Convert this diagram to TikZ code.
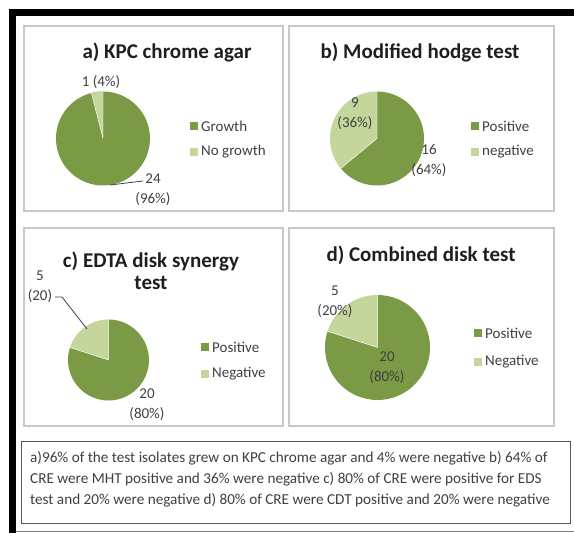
\documentclass[tikz,border=0pt]{standalone}
\usepackage{fontspec}
\setmainfont{Carlito}
\definecolor{dk}{HTML}{7A9A45}
\definecolor{lt}{HTML}{C4D69B}
\definecolor{panelgray}{HTML}{C8C8C8}
\definecolor{txt}{HTML}{404040}
\begin{document}
\begin{tikzpicture}[x=1pt,y=1pt,
  panel/.style={draw=panelgray, line width=1.2pt},
  ttl/.style={font=\fontsize{21}{22}\selectfont\bfseries, text=black!88, inner sep=0pt, align=center},
  lbl/.style={font=\fontsize{15}{20}\selectfont, text=txt, inner sep=0pt, align=center},
  leg/.style={font=\fontsize{15}{18}\selectfont, text=txt, inner sep=0pt, anchor=west},
  sw/.style={minimum size=8pt, inner sep=0pt},
  lead/.style={draw=txt, line width=0.8pt},
  sep/.style={draw=white, line width=0.4pt}]
\useasboundingbox (0,0) rectangle (574,533);
\fill[white] (0,0) rectangle (574,533);
% outer black frame
\fill[black] (9,517) rectangle (574,524);
\fill[black] (9,0) rectangle (16,524);
\draw[gray, line width=0.8pt] (16,1.5) -- (574,1.5);
% panels
\draw[panel] (24,322) rectangle (283,507);
\draw[panel] (289,322) rectangle (554,507);
\draw[panel] (24,107) rectangle (283,305);
\draw[panel] (289,107) rectangle (554,305);
\draw[draw=black!65, line width=1pt] (21,9) rectangle (570,91);

% ---------- a) ----------
\node[ttl] (ta) at (167,481) {a) KPC chrome agar};
\coordinate (ca) at (103,394.5);
\fill[dk] (ca) -- ++(104.4:47) arc[start angle=104.4, end angle=-270, radius=47] -- cycle;
\fill[lt] (ca) -- ++(90:47) arc[start angle=90, end angle=104.4, radius=47] -- cycle;
\draw[sep] (ca) -- ++(90:47) (ca) -- ++(104.4:47);
\node[lbl] (la1) at (101,451) {1 (4\%)};
\node[lbl] (la2) at (153,343) {24\\(96\%)};
\coordinate (pa) at (110,348);
\coordinate (qa) at (143,352);
\draw[lead] (pa) -- (qa);
\node[sw, fill=dk] (sa1) at (194,407) {};
\node[leg] (ga1) at (201,407) {Growth};
\node[sw, fill=lt] (sa2) at (194,381) {};
\node[leg] (ga2) at (201,381) {No growth};

% ---------- b) ----------
\node[ttl] (tb) at (420,481) {b) Modified hodge test};
\coordinate (cb) at (377,394.5);
\fill[dk] (cb) -- ++(219.6:47) arc[start angle=219.6, end angle=450, radius=47] -- cycle;
\fill[lt] (cb) -- ++(90:47) arc[start angle=90, end angle=219.6, radius=47] -- cycle;
\draw[sep] (cb) -- ++(90:47) (cb) -- ++(219.6:47);
\node[lbl] (lb1) at (355,419) {9\\(36\%)};
\node[lbl] (lb2) at (429,373) {16\\(64\%)};
\node[sw, fill=dk] (sb1) at (475,407) {};
\node[leg] (gb1) at (482,407) {Positive};
\node[sw, fill=lt] (sb2) at (475,381) {};
\node[leg] (gb2) at (482,381) {negative};

% ---------- c) ----------
\node[ttl] (tc) at (151,262) {c) EDTA disk synergy\\test};
\coordinate (cc) at (108.5,173);
\fill[dk] (cc) -- ++(162:40.5) arc[start angle=162, end angle=450, radius=40.5] -- cycle;
\fill[lt] (cc) -- ++(90:40.5) arc[start angle=90, end angle=162, radius=40.5] -- cycle;
\draw[sep] (cc) -- ++(90:40.5) (cc) -- ++(162:40.5);
\node[lbl] (lc1) at (40,246) {5\\(20)};
\node[lbl] (lc2) at (147,128) {20\\(80\%)};
\coordinate (pc) at (55,236);
\coordinate (kc) at (62,236);
\coordinate (qc) at (87,204);
\draw[lead] (pc) -- (kc) -- (qc);
\node[sw, fill=dk] (sc1) at (205,186) {};
\node[leg] (gc1) at (212,186) {Positive};
\node[sw, fill=lt] (sc2) at (205,159) {};
\node[leg] (gc2) at (212,159) {Negative};

% ---------- d) ----------
\node[ttl] (td) at (421,278) {d) Combined disk test};
\coordinate (cd) at (377.5,185.5);
\fill[dk] (cd) -- ++(162:52.5) arc[start angle=162, end angle=450, radius=52.5] -- cycle;
\fill[lt] (cd) -- ++(90:52.5) arc[start angle=90, end angle=162, radius=52.5] -- cycle;
\draw[sep] (cd) -- ++(90:52.5) (cd) -- ++(162:52.5);
\node[lbl] (ld1) at (335,231) {5\\(20\%)};
\node[lbl] (ld2) at (387,165) {20\\(80\%)};
\node[sw, fill=dk] (sd1) at (478,200) {};
\node[leg] (gd1) at (485,200) {Positive};
\node[sw, fill=lt] (sd2) at (478,171) {};
\node[leg] (gd2) at (485,171) {Negative};

% ---------- note ----------
\node[font=\fontsize{15.2}{21}\selectfont, text=txt, align=left, inner sep=0pt, anchor=west] (note) at (30,54)
 {a)96\% of the test isolates grew on KPC chrome agar and 4\% were negative b) 64\% of\\
  CRE were MHT positive and 36\% were negative c) 80\% of CRE were positive for EDS\\
  test and 20\% were negative d) 80\% of CRE were CDT positive and 20\% were negative};
\end{tikzpicture}
\end{document}
